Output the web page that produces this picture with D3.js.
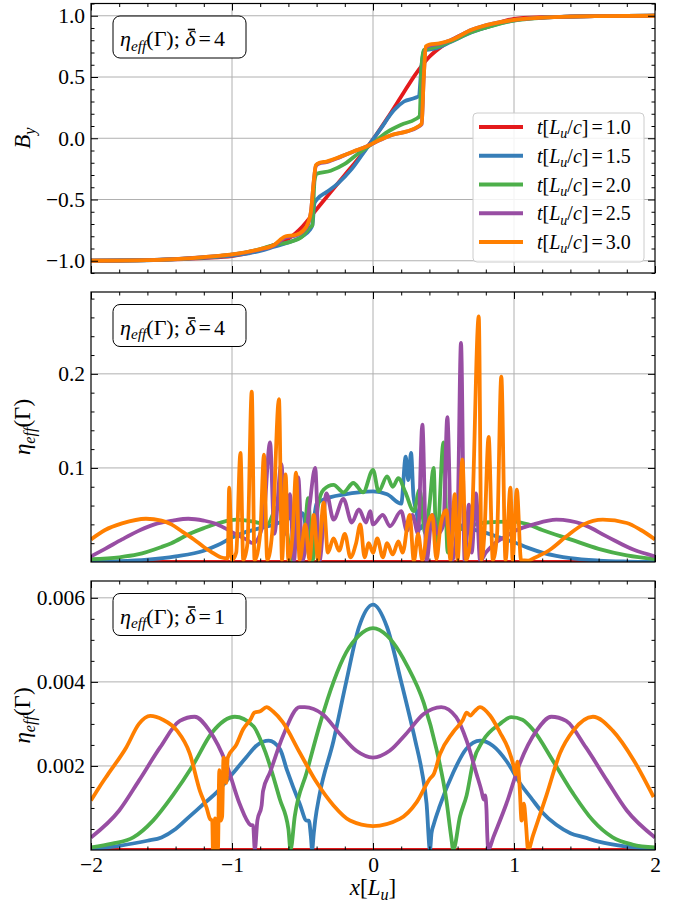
<!DOCTYPE html>
<html>
<head>
<meta charset="utf-8">
<script src="https://cdn.jsdelivr.net/npm/d3@7.9.0/dist/d3.min.js"></script>
<style>
  body { margin: 0; background: #fff; }
  svg { display: block; font-family: 'Liberation Serif', 'Times New Roman', serif; }
  .grid line { stroke: #b0b0b0; stroke-width: 1; }
</style>
</head>
<body>
<div id="chart"></div>
<script>
const times = ['1.0', '1.5', '2.0', '2.5', '3.0'];
const colors = ['#e41a1c', '#377eb8', '#4daf4a', '#984ea3', '#ff7f00'];

const xTicks = [-2, -1, 0, 1, 2];
const xMinor = d3.range(-10, 11).filter((i) => i % 5 !== 0).map((i) => i / 5);

const p1Ticks = [-1, -0.5, 0, 0.5, 1];
const p1Minor = d3.range(-11, 12).filter((i) => i % 5 !== 0).map((i) => i / 10);
const p2Ticks = [0.1, 0.2];
const p2Minor = d3.range(1, 15).filter((i) => i % 5 !== 0).map((i) => i * 0.02);
const p3Ticks = [0.002, 0.004, 0.006];
const p3Minor = d3.range(1, 13).filter((i) => i % 4 !== 0).map((i) => i * 0.0005);

// ---- panel 1: B_y ----
const p1Red = [[-2,-1.0],[-1.8,-0.998],[-1.6,-0.995],[-1.4,-0.988],[-1.2,-0.978],[-1.0,-0.963],[-0.8,-0.91],[-0.7,-0.87],[-0.6,-0.82],[-0.5,-0.72],[-0.4,-0.58],[-0.3,-0.44],[-0.2,-0.3],[-0.1,-0.16],[0,-0.01],[0.1,0.16],[0.2,0.34],[0.3,0.52],[0.4,0.665],[0.5,0.76],[0.6,0.83],[0.7,0.875],[0.8,0.905],[1.0,0.975],[1.2,0.988],[1.4,0.994],[1.6,0.997],[1.8,0.999],[2,1.0]];
const p1Blue = [[-2,-1.0],[-1.6,-0.996],[-1.2,-0.975],[-1.0,-0.958],[-0.8,-0.92],[-0.7,-0.885],[-0.6,-0.85],[-0.5,-0.8],[-0.45,-0.75],[-0.43,-0.71],[-0.415,-0.53],[-0.39,-0.49],[-0.33,-0.44],[-0.25,-0.37],[-0.15,-0.25],[-0.05,-0.09],[0.05,0.07],[0.15,0.23],[0.22,0.3],[0.3,0.33],[0.325,0.345],[0.345,0.6],[0.36,0.715],[0.45,0.735],[0.55,0.785],[0.7,0.865],[0.85,0.922],[1.0,0.962],[1.2,0.984],[1.4,0.993],[1.6,0.997],[2,1.0]];
const p1Green = [[-2,-1.0],[-1.6,-0.995],[-1.2,-0.972],[-1.0,-0.95],[-0.8,-0.905],[-0.7,-0.87],[-0.6,-0.85],[-0.5,-0.8],[-0.45,-0.73],[-0.43,-0.71],[-0.415,-0.35],[-0.4,-0.29],[-0.3,-0.265],[-0.2,-0.21],[-0.1,-0.12],[0,-0.04],[0.1,0.05],[0.2,0.11],[0.3,0.155],[0.33,0.18],[0.345,0.6],[0.36,0.72],[0.45,0.745],[0.55,0.79],[0.7,0.868],[0.85,0.92],[1.0,0.96],[1.2,0.983],[1.4,0.993],[1.6,0.997],[2,1.0]];
const p1Purple = [[-2,-1.0],[-1.6,-0.995],[-1.2,-0.971],[-1.0,-0.95],[-0.8,-0.908],[-0.7,-0.875],[-0.66,-0.84],[-0.62,-0.81],[-0.55,-0.795],[-0.5,-0.765],[-0.46,-0.7],[-0.44,-0.6],[-0.42,-0.35],[-0.405,-0.225],[-0.38,-0.205],[-0.33,-0.195],[-0.23,-0.152],[-0.14,-0.11],[-0.05,-0.07],[0.05,-0.015],[0.14,0.028],[0.24,0.055],[0.32,0.092],[0.345,0.115],[0.36,0.5],[0.375,0.74],[0.4,0.755],[0.47,0.77],[0.55,0.8],[0.7,0.885],[0.85,0.935],[1.0,0.966],[1.2,0.984],[1.4,0.993],[1.6,0.997],[2,1.0]];
const p1Orange = [[-2,-1.0],[-1.6,-0.995],[-1.2,-0.97],[-1.0,-0.948],[-0.8,-0.905],[-0.7,-0.87],[-0.66,-0.83],[-0.62,-0.8],[-0.55,-0.79],[-0.5,-0.76],[-0.46,-0.69],[-0.44,-0.6],[-0.42,-0.35],[-0.405,-0.22],[-0.38,-0.2],[-0.33,-0.19],[-0.23,-0.15],[-0.14,-0.108],[-0.05,-0.07],[0.05,-0.012],[0.14,0.03],[0.24,0.056],[0.32,0.096],[0.345,0.12],[0.36,0.5],[0.375,0.75],[0.4,0.765],[0.47,0.775],[0.55,0.8],[0.7,0.885],[0.85,0.935],[1.0,0.966],[1.2,0.984],[1.4,0.993],[1.6,0.997],[2,1.0]];

// ---- panel 2: eta_eff, delta = 4 ----
const p2Red = [[-2,0],[2,0]];
const p2Blue = [[-2,0.0002],[-1.8,0.0008],[-1.6,0.0025],[-1.4,0.006],[-1.2,0.012],[-1.1,0.018],[-1.0,0.026],[-0.9,0.032],[-0.8,0.036],[-0.7,0.04],[-0.6,0.046],[-0.5,0.052],[-0.47,0.03],[-0.45,0.005],[-0.43,0.03],[-0.4,0.062],[-0.3,0.069],[-0.2,0.072],[-0.1,0.074],[0,0.075],[0.1,0.072],[0.2,0.062],[0.232,0.112],[0.25,0.087],[0.27,0.116],[0.287,0.07],[0.31,0.052],[0.33,0.035],[0.36,0.04],[0.45,0.045],[0.6,0.04],[0.7,0.035],[0.8,0.031],[0.9,0.026],[1.0,0.021],[1.1,0.015],[1.2,0.01],[1.3,0.0065],[1.4,0.004],[1.6,0.0015],[1.8,0.0005],[2,0.0001]];
const p2Green = [[-2,0.003],[-1.8,0.005],[-1.67,0.008],[-1.5,0.016],[-1.43,0.02],[-1.3,0.03],[-1.2,0.036],[-1.08,0.042],[-0.97,0.045],[-0.85,0.043],[-0.75,0.04],[-0.68,0.058],[-0.62,0.04],[-0.57,0.001],[-0.54,0.066],[-0.5,0.001],[-0.46,0.068],[-0.43,0.001],[-0.39,0.06],[-0.35,0.077],[-0.28,0.082],[-0.21,0.074],[-0.14,0.084],[-0.07,0.074],[0,0.098],[0.04,0.075],[0.1,0.091],[0.14,0.08],[0.18,0.089],[0.23,0.074],[0.29,0.054],[0.33,0.077],[0.37,0.03],[0.4,0.06],[0.43,0.1],[0.45,0.01],[0.5,0.127],[0.53,0.01],[0.55,0.056],[0.59,0.034],[0.7,0.039],[0.8,0.042],[1.0,0.043],[1.1,0.04],[1.2,0.034],[1.4,0.024],[1.6,0.014],[1.8,0.007],[2,0.003]];
const p2Purple = [[-2,0.006],[-1.9,0.014],[-1.78,0.024],[-1.65,0.034],[-1.55,0.04],[-1.42,0.044],[-1.31,0.046],[-1.2,0.044],[-1.12,0.041],[-1.05,0.036],[-0.98,0.03],[-0.9,0.024],[-0.85,0.02],[-0.78,0.04],[-0.73,0.127],[-0.7,0.03],[-0.65,0.104],[-0.62,0.03],[-0.59,0.072],[-0.56,0.001],[-0.53,0.09],[-0.5,0.001],[-0.45,0.06],[-0.41,0.1],[-0.38,0.001],[-0.33,0.073],[-0.28,0.045],[-0.21,0.067],[-0.15,0.042],[-0.1,0.056],[-0.05,0.042],[-0.02,0.054],[0,0.04],[0.07,0.05],[0.12,0.038],[0.2,0.054],[0.24,0.033],[0.28,0.05],[0.32,0.03],[0.35,0.146],[0.38,0.001],[0.42,0.05],[0.46,0.03],[0.5,0.04],[0.527,0.154],[0.56,0.001],[0.6,0.05],[0.624,0.233],[0.65,0.001],[0.68,0.061],[0.7,0.01],[0.73,0.073],[0.76,0.001],[0.8,0.01],[0.85,0.018],[0.95,0.028],[1.02,0.034],[1.14,0.04],[1.3,0.045],[1.49,0.04],[1.66,0.027],[1.85,0.013],[2,0.006]];
const p2Orange = [[-2,0.024],[-1.9,0.034],[-1.78,0.041],[-1.61,0.046],[-1.5,0.044],[-1.43,0.04],[-1.35,0.032],[-1.27,0.024],[-1.2,0.016],[-1.15,0.011],[-1.08,0.005],[-1.04,0.004],[-1.03,0.004],[-1.02,0.079],[-1.0,0.002],[-0.97,0.01],[-0.94,0.116],[-0.92,0.002],[-0.89,0.02],[-0.86,0.181],[-0.84,0.002],[-0.8,0.03],[-0.773,0.114],[-0.75,0.002],[-0.71,0.04],[-0.667,0.173],[-0.645,0.002],[-0.62,0.093],[-0.6,0.002],[-0.57,0.03],[-0.546,0.095],[-0.52,0.002],[-0.48,0.04],[-0.45,0.002],[-0.42,0.05],[-0.39,0.002],[-0.35,0.063],[-0.32,0.01],[-0.28,0.025],[-0.24,0.012],[-0.2,0.03],[-0.16,0.005],[-0.12,0.02],[-0.09,0.04],[-0.06,0.005],[-0.03,0.02],[0,0.01],[0.03,0.025],[0.07,0.005],[0.1,0.02],[0.14,0.008],[0.18,0.022],[0.21,0.01],[0.26,0.05],[0.29,0.001],[0.32,0.03],[0.35,0.002],[0.39,0.04],[0.42,0.05],[0.45,0.003],[0.48,0.04],[0.52,0.055],[0.55,0.002],[0.58,0.072],[0.6,0.002],[0.634,0.109],[0.66,0.002],[0.7,0.04],[0.75,0.261],[0.77,0.002],[0.79,0.03],[0.82,0.133],[0.85,0.002],[0.88,0.03],[0.91,0.197],[0.94,0.002],[0.975,0.079],[0.99,0.002],[1.02,0.077],[1.05,0.002],[1.1,0.0015],[1.14,0.004],[1.255,0.013],[1.37,0.027],[1.49,0.0397],[1.63,0.045],[1.8,0.0415],[1.9,0.034],[2,0.024]];

// ---- panel 3: eta_eff, delta = 1 ----
const p3Red = [[-2,0],[2,0]];
const p3Blue = [[-2,0.00002],[-1.8,0.0001],[-1.6,0.00022],[-1.5,0.0003],[-1.4,0.0005],[-1.3,0.0008],[-1.2,0.0011],[-1.1,0.0014],[-1.0,0.0018],[-0.9,0.0022],[-0.82,0.0025],[-0.74,0.0026],[-0.66,0.0024],[-0.61,0.0019],[-0.52,0.0011],[-0.47,0.0007],[-0.455,0.0007],[-0.44,0.0003],[-0.432,0.0],[-0.42,0.0004],[-0.41,0.0007],[-0.38,0.0013],[-0.28,0.0026],[-0.19,0.004],[-0.1,0.0053],[0,0.00584],[0.1,0.0053],[0.2,0.004],[0.3,0.0026],[0.345,0.0019],[0.38,0.0011],[0.404,0.0],[0.415,0.0004],[0.43,0.0006],[0.475,0.00106],[0.57,0.00185],[0.66,0.0024],[0.76,0.0026],[0.85,0.00248],[0.95,0.0021],[1.04,0.0016],[1.13,0.0012],[1.2,0.0009],[1.3,0.0006],[1.4,0.0004],[1.5,0.0003],[1.6,0.0002],[1.8,0.00008],[2,0.00002]];
const p3Green = [[-2,0.00006],[-1.85,0.00015],[-1.7,0.0003],[-1.56,0.0007],[-1.42,0.0013],[-1.28,0.002],[-1.14,0.0028],[-0.98,0.00317],[-0.85,0.00295],[-0.76,0.0023],[-0.66,0.0012],[-0.6,0.0005],[-0.585,0.0],[-0.555,0.0008],[-0.47,0.00185],[-0.376,0.003],[-0.28,0.004],[-0.19,0.0047],[-0.1,0.0051],[0,0.00528],[0.1,0.0051],[0.19,0.0047],[0.24,0.0044],[0.36,0.0035],[0.45,0.0024],[0.52,0.0012],[0.555,0.0003],[0.569,0.0],[0.617,0.0008],[0.664,0.0013],[0.711,0.0021],[0.78,0.0026],[0.9,0.003],[0.98,0.00316],[1.06,0.0031],[1.135,0.00286],[1.28,0.0021],[1.42,0.00134],[1.56,0.0007],[1.7,0.0003],[1.84,0.00013],[2,0.00006]];
const p3Purple = [[-2,0.0003],[-1.8,0.00094],[-1.66,0.00165],[-1.51,0.00244],[-1.37,0.00307],[-1.265,0.00317],[-1.16,0.00284],[-1.04,0.00205],[-0.946,0.0011],[-0.87,0.0006],[-0.85,0.00058],[-0.838,0.0],[-0.82,0.0007],[-0.79,0.00106],[-0.78,0.0014],[-0.73,0.00185],[-0.64,0.0027],[-0.52,0.0034],[-0.484,0.0034],[-0.357,0.00323],[-0.234,0.00276],[-0.118,0.00236],[0,0.0022],[0.118,0.00236],[0.234,0.00276],[0.357,0.00323],[0.484,0.0034],[0.59,0.00316],[0.664,0.0026],[0.735,0.0018],[0.77,0.0014],[0.785,0.0012],[0.795,0.0013],[0.805,0.00095],[0.81,0.0004],[0.818,0.0],[0.853,0.0003],[0.946,0.0011],[1.04,0.00205],[1.16,0.00284],[1.265,0.00317],[1.37,0.00307],[1.51,0.00244],[1.66,0.00165],[1.8,0.00094],[2,0.0003]];
const p3Orange = [[-2,0.00118],[-1.94,0.0015],[-1.88,0.0018],[-1.75,0.00244],[-1.66,0.003],[-1.58,0.00319],[-1.49,0.0031],[-1.39,0.00284],[-1.3,0.0023],[-1.227,0.0014],[-1.18,0.001],[-1.156,0.00074],[-1.14,0.0007],[-1.135,0.0],[-1.125,0.0],[-1.12,0.00075],[-1.113,0.0],[-1.1,0.0],[-1.09,0.0019],[-1.08,0.0007],[-1.07,0.0008],[-1.06,0.0022],[-1.05,0.0021],[-1.04,0.0016],[-1.03,0.0022],[-0.97,0.0025],[-0.92,0.00288],[-0.87,0.0031],[-0.84,0.00327],[-0.8,0.0033],[-0.755,0.0034],[-0.71,0.0033],[-0.64,0.00304],[-0.52,0.00232],[-0.4,0.00161],[-0.28,0.00106],[-0.163,0.0007],[0,0.00057],[0.19,0.00074],[0.31,0.00114],[0.404,0.0017],[0.43,0.0018],[0.475,0.00228],[0.567,0.0028],[0.638,0.0031],[0.664,0.00327],[0.69,0.0032],[0.72,0.0033],[0.759,0.0034],[0.83,0.0032],[0.9,0.0028],[0.96,0.0024],[0.997,0.002],[1.01,0.0018],[1.025,0.0021],[1.04,0.0015],[1.054,0.0007],[1.07,0.0011],[1.085,0.0006],[1.1,0.0],[1.135,0.00035],[1.23,0.0013],[1.326,0.0023],[1.42,0.00284],[1.56,0.00317],[1.7,0.00284],[1.85,0.00213],[1.99,0.00126]];

const width = 681;
const height = 906;
const left = 91, right = 655;
const lineW = 3.8;
const serif = "'Liberation Serif', 'Times New Roman', serif";

const svg = d3.select('#chart').append('svg')
  .attr('width', width)
  .attr('height', height)
  .attr('viewBox', [0, 0, width, height]);

const x = d3.scaleLinear().domain([-2, 2]).range([left, right]);

// write a label made of parts {t, i (italic), sub}
function mathText(sel, parts, size) {
  let shift = 0;
  parts.forEach((p) => {
    const ts = sel.append('tspan')
      .text(p.t)
      .attr('font-style', p.i ? 'italic' : 'normal')
      .attr('font-size', p.sub ? size * 0.7 : size);
    const want = p.sub ? size * 0.22 : 0;
    if (want !== shift) { ts.attr('dy', want - shift); shift = want; }
    if (p.dx) ts.attr('dx', p.dx);
  });
}

const etaParts = [{ t: 'η', i: true }, { t: 'eff', i: true, sub: true }, { t: '(Γ)' }];

const panels = [
  { top: 3.5, bottom: 273, domain: [-1.1, 1.1], ticks: p1Ticks, minor: p1Minor, fmt: d3.format('.1f'),
    series: [p1Red, p1Blue, p1Green, p1Purple, p1Orange], delta: '4',
    ylabel: [{ t: 'B', i: true }, { t: 'y', i: true, sub: true }] },
  { top: 292, bottom: 562, domain: [0, 0.287], ticks: p2Ticks, minor: p2Minor, fmt: d3.format('.1f'),
    series: [p2Red, p2Blue, p2Green, p2Purple, p2Orange], delta: '4', ylabel: etaParts },
  { top: 581, bottom: 850, domain: [0, 0.0064], ticks: p3Ticks, minor: p3Minor, fmt: d3.format('.3f'),
    series: [p3Red, p3Blue, p3Green, p3Purple, p3Orange], delta: '1', ylabel: etaParts, xLabels: true },
];

panels.forEach((p, k) => {
  const y = d3.scaleLinear().domain(p.domain).range([p.bottom, p.top]);
  const g = svg.append('g');
  const h = p.bottom - p.top;

  g.append('clipPath').attr('id', 'clip' + k)
    .append('rect').attr('x', left).attr('y', p.top).attr('width', right - left).attr('height', h);

  // grid
  const grid = g.append('g').attr('class', 'grid');
  grid.selectAll('.gx').data([-1, 0, 1]).join('line')
    .attr('x1', (d) => x(d)).attr('x2', (d) => x(d))
    .attr('y1', p.top).attr('y2', p.bottom);
  grid.selectAll('.gy').data(p.ticks).join('line')
    .attr('x1', left).attr('x2', right)
    .attr('y1', (d) => y(d)).attr('y2', (d) => y(d));

  // curves
  const line = d3.line().x((d) => x(d[0])).y((d) => y(d[1])).curve(d3.curveMonotoneX);
  g.append('g').attr('clip-path', `url(#clip${k})`)
    .selectAll('path').data(p.series).join('path')
    .attr('d', line)
    .attr('fill', 'none')
    .attr('stroke', (d, i) => colors[i])
    .attr('stroke-width', lineW)
    .attr('stroke-linejoin', 'round');

  // axes, ticks inward on all sides
  const axes = [
    [d3.axisLeft(y).tickValues(p.ticks).tickFormat(p.fmt).tickSize(-7).tickPadding(6), `translate(${left},0)`],
    [d3.axisLeft(y).tickValues(p.minor).tickFormat('').tickSize(-3.5), `translate(${left},0)`],
    [d3.axisRight(y).tickValues(p.ticks).tickFormat('').tickSize(-7), `translate(${right},0)`],
    [d3.axisRight(y).tickValues(p.minor).tickFormat('').tickSize(-3.5), `translate(${right},0)`],
    [d3.axisTop(x).tickValues(xTicks).tickFormat('').tickSize(-7), `translate(0,${p.top})`],
    [d3.axisTop(x).tickValues(xMinor).tickFormat('').tickSize(-3.5), `translate(0,${p.top})`],
    [d3.axisBottom(x).tickValues(xTicks).tickFormat(p.xLabels ? d3.format('d') : '').tickSize(-7).tickPadding(7), `translate(0,${p.bottom})`],
    [d3.axisBottom(x).tickValues(xMinor).tickFormat('').tickSize(-3.5), `translate(0,${p.bottom})`],
  ];
  axes.forEach(([ax, tr]) => {
    const a = g.append('g').attr('transform', tr).call(ax);
    a.select('.domain').remove();
    a.attr('font-family', serif).attr('font-size', 21.5);
    a.selectAll('text').attr('font-family', serif).attr('font-size', 21.5).attr('fill', '#000');
  });

  g.append('rect')
    .attr('x', left).attr('y', p.top).attr('width', right - left).attr('height', h)
    .attr('fill', 'none').attr('stroke', '#000').attr('stroke-width', 1.2);

  // y label
  const yl = g.append('text')
    .attr('transform', `translate(30,${(p.top + p.bottom) / 2}) rotate(-90)`)
    .attr('text-anchor', 'middle');
  mathText(yl, p.ylabel, 23);

  // annotation box
  const bx = left + 22, by = p.top + 12.5;
  g.append('rect')
    .attr('x', bx).attr('y', by).attr('width', 133).attr('height', 42).attr('rx', 7)
    .attr('fill', '#fff').attr('stroke', '#000').attr('stroke-width', 1);
  const ann = g.append('text').attr('x', bx + 7).attr('y', by + 30);
  const annParts = [...etaParts, { t: '; ' }, { t: 'δ', i: true }, { t: '=', dx: 3 }, { t: p.delta, dx: 3 }];
  mathText(ann, annParts, 22);
  const dIndex = 'η'.length + 'eff'.length + '(Γ)'.length + '; '.length;
  const ext = ann.node().getExtentOfChar(dIndex);
  g.append('line')
    .attr('x1', ext.x + 2.5).attr('x2', ext.x + ext.width - 0.5)
    .attr('y1', ext.y + 3.5).attr('y2', ext.y + 3.5)
    .attr('stroke', '#000').attr('stroke-width', 1.6);

  // legend in the first panel
  if (k === 0) {
    const lg = g.append('g');
    lg.append('rect')
      .attr('x', 473).attr('y', 113).attr('width', 171).attr('height', 149).attr('rx', 4)
      .attr('fill', '#fff').attr('fill-opacity', 0.85).attr('stroke', '#ccc');
    times.forEach((t, i) => {
      const ry = 127 + i * 28.75;
      lg.append('line').attr('x1', 479).attr('x2', 523).attr('y1', ry).attr('y2', ry)
        .attr('stroke', colors[i]).attr('stroke-width', lineW);
      const tx = lg.append('text').attr('x', 537).attr('y', ry + 7);
      mathText(tx, [{ t: 't', i: true }, { t: '[' }, { t: 'L', i: true }, { t: 'u', i: true, sub: true },
        { t: '/' }, { t: 'c', i: true }, { t: ']' }, { t: '=', dx: 3 }, { t: t, dx: 3 }], 20);
    });
  }
});

// x label
const xl = svg.append('text').attr('x', x(0)).attr('y', 895).attr('text-anchor', 'middle');
mathText(xl, [{ t: 'x', i: true }, { t: '[' }, { t: 'L', i: true }, { t: 'u', i: true, sub: true }, { t: ']' }], 23);
</script>
</body>
</html>
